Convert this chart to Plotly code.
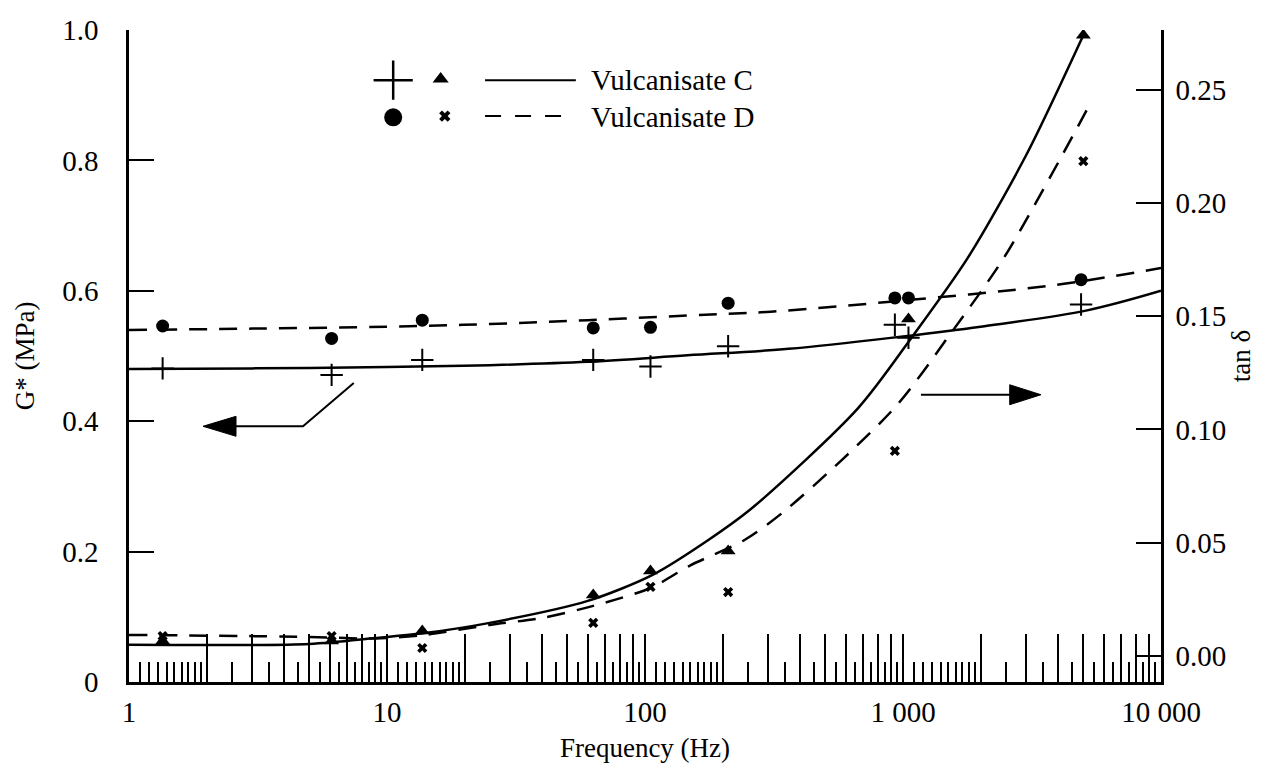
import plotly.graph_objects as go

# ---------------- data ----------------
# G* (MPa) measured points, left axis
freq_g = [1.35, 6.1, 13.7, 63, 105, 210, 930, 1050, 4900]
g_c = [0.481, 0.471, 0.494, 0.494, 0.484, 0.515, 0.548, 0.528, 0.579]   # "+"  Vulcanisate C
g_d = [0.546, 0.527, 0.555, 0.543, 0.544, 0.581, 0.589, 0.589, 0.617]   # dots Vulcanisate D

# tan delta measured points, right axis
freq_tan_c = [1.35, 6.1, 13.7, 63, 105, 210, 1050, 5000]
tan_c = [0.0066, 0.0066, 0.0110, 0.0269, 0.0375, 0.0463, 0.1487, 0.2740]  # triangles
freq_tan_d = [1.35, 6.1, 13.7, 63, 105, 210, 930, 5000]
tan_d = [0.0088, 0.0088, 0.0035, 0.0146, 0.0305, 0.0282, 0.0905, 0.2184]  # crosses

# fitted curves
fit_g_c_f = [1, 3, 10, 25, 60, 146, 360, 1000, 2000, 5170, 10000]
fit_g_c = [0.480, 0.481, 0.483, 0.486, 0.491, 0.501, 0.511, 0.530, 0.545, 0.570, 0.600]
fit_g_d_f = [1, 3, 10, 25, 60, 146, 307, 1000, 3900, 10000]
fit_g_d = [0.540, 0.542, 0.545, 0.549, 0.555, 0.562, 0.568, 0.585, 0.609, 0.635]

fit_tan_c_f = [1, 5, 9, 14, 25, 60, 107, 176, 260, 670, 1100, 1780, 3000, 5000]
fit_tan_c = [0.0049, 0.0053, 0.0079, 0.0101, 0.0146, 0.0243, 0.0358, 0.0512, 0.0653,
             0.1094, 0.1418, 0.1756, 0.2210, 0.2740]
fit_tan_d_f = [1, 5, 9, 14, 25, 40, 63, 105, 150, 243, 359, 925, 1518, 2456, 4140, 5200]
fit_tan_d = [0.0093, 0.0084, 0.0077, 0.0093, 0.0137, 0.0168, 0.0221, 0.0300, 0.0400,
             0.0512, 0.0653, 0.1094, 0.1418, 0.1756, 0.2210, 0.2418]

# axis ticks
x_tick_vals = [1, 10, 100, 1000, 10000]
x_tick_text = ["1", "10", "100", "1 000", "10 000"]
g_tick_vals = [0, 0.2, 0.4, 0.6, 0.8, 1.0]
g_tick_text = ["0", "0.2", "0.4", "0.6", "0.8", "1.0"]
tan_tick_vals = [0.0, 0.05, 0.10, 0.15, 0.20, 0.25]

# log "ruler" ticks along the frequency axis
decades = [1, 10, 100, 1000]
short_mant = [1.1, 1.2, 1.3, 1.4, 1.5, 1.6, 1.7, 1.8, 1.9]
tall_mant = [2, 3, 4, 5, 6, 7, 8, 9, 10]
mid_mant = [2.5, 3.5, 4.5, 5.5, 6.5, 7.5, 8.5, 9.5]
ruler_short = [m * d for d in decades for m in short_mant]
ruler_tall = [1] + [m * d for d in decades for m in tall_mant]
ruler_mid = [m * d for d in decades for m in mid_mant]
label_of = dict(zip(x_tick_vals, x_tick_text))
ruler_tall_text = [label_of.get(v, "") for v in ruler_tall]

FONT = "Liberation Serif"
BLACK = "black"
LW = 2.5

fig = go.Figure()

# fitted curves
fig.add_trace(go.Scatter(x=fit_g_c_f, y=fit_g_c, mode="lines", line=dict(color=BLACK, width=LW, shape="spline"),
                         showlegend=False, hoverinfo="skip"))
fig.add_trace(go.Scatter(x=fit_g_d_f, y=fit_g_d, mode="lines",
                         line=dict(color=BLACK, width=LW, dash="18px,12px", shape="spline"),
                         showlegend=False, hoverinfo="skip"))
fig.add_trace(go.Scatter(x=fit_tan_c_f, y=fit_tan_c, yaxis="y2", mode="lines",
                         line=dict(color=BLACK, width=LW, shape="spline", smoothing=0.8),
                         showlegend=False, hoverinfo="skip"))
fig.add_trace(go.Scatter(x=fit_tan_d_f, y=fit_tan_d, yaxis="y2", mode="lines",
                         line=dict(color=BLACK, width=LW, dash="18px,12px", shape="spline", smoothing=0.8),
                         showlegend=False, hoverinfo="skip"))

# measured points
fig.add_trace(go.Scatter(x=freq_g, y=g_c, mode="markers", name="G* C",
                         marker=dict(symbol="cross-thin-open", size=16, color=BLACK,
                                     line=dict(color=BLACK, width=2)),
                         showlegend=False))
fig.add_trace(go.Scatter(x=freq_g, y=g_d, mode="markers", name="G* D",
                         marker=dict(symbol="circle", size=13, color=BLACK), showlegend=False))
fig.add_trace(go.Scatter(x=freq_tan_c, y=tan_c, yaxis="y2", mode="markers", name="tan C",
                         marker=dict(symbol="triangle-up", size=13, color=BLACK), showlegend=False))
fig.add_trace(go.Scatter(x=freq_tan_d, y=tan_d, yaxis="y2", mode="markers", name="tan D",
                         marker=dict(symbol="x", size=9, color=BLACK), showlegend=False))

# legend glyphs on a hidden unit overlay
leg_x = [0.256, 0.302]
fig.add_trace(go.Scatter(x=[leg_x[0]], y=[0.923], xaxis="x5", yaxis="y5", mode="markers",
                         marker=dict(symbol="cross-thin-open", size=28, color=BLACK,
                                     line=dict(color=BLACK, width=2.5)),
                         showlegend=False, hoverinfo="skip"))
fig.add_trace(go.Scatter(x=[leg_x[1]], y=[0.925], xaxis="x5", yaxis="y5", mode="markers",
                         marker=dict(symbol="triangle-up", size=14, color=BLACK),
                         showlegend=False, hoverinfo="skip"))
fig.add_trace(go.Scatter(x=[leg_x[0]], y=[0.866], xaxis="x5", yaxis="y5", mode="markers",
                         marker=dict(symbol="circle", size=18, color=BLACK),
                         showlegend=False, hoverinfo="skip"))
fig.add_trace(go.Scatter(x=[leg_x[1] + 0.004], y=[0.868], xaxis="x5", yaxis="y5", mode="markers",
                         marker=dict(symbol="x", size=10, color=BLACK),
                         showlegend=False, hoverinfo="skip"))

shapes = [
    # legend lines
    dict(type="line", xref="paper", yref="paper", x0=0.345, x1=0.433, y0=0.923, y1=0.923,
         line=dict(color=BLACK, width=2)),
    dict(type="line", xref="paper", yref="paper", x0=0.345, x1=0.426, y0=0.868, y1=0.868,
         line=dict(color=BLACK, width=2, dash="16px,14px")),
    # left-pointing arrow (G* axis)
    dict(type="path", xref="paper", yref="paper",
         path="M 0.2178 0.4586 L 0.1686 0.3922 L 0.1000 0.3922",
         line=dict(color=BLACK, width=2)),
    dict(type="path", xref="paper", yref="paper",
         path="M 0.0717 0.3922 L 0.1037 0.4075 L 0.1037 0.3769 Z",
         fillcolor=BLACK, line=dict(color=BLACK, width=1)),
    # right-pointing arrow (tan delta axis)
    dict(type="line", xref="paper", yref="paper", x0=0.7674, x1=0.856, y0=0.4406, y1=0.4406,
         line=dict(color=BLACK, width=2)),
    dict(type="path", xref="paper", yref="paper",
         path="M 0.8837 0.4406 L 0.8534 0.4559 L 0.8534 0.4253 Z",
         fillcolor=BLACK, line=dict(color=BLACK, width=1)),
]

annotations = [
    dict(text="Vulcanisate C", xref="paper", yref="paper", x=0.446, y=0.923, xanchor="left",
         yanchor="middle", showarrow=False, font=dict(family=FONT, size=29, color=BLACK)),
    dict(text="Vulcanisate D", xref="paper", yref="paper", x=0.446, y=0.866, xanchor="left",
         yanchor="middle", showarrow=False, font=dict(family=FONT, size=29, color=BLACK)),
]

tick_font = dict(family=FONT, size=29, color=BLACK)
title_font = dict(family=FONT, size=27, color=BLACK)

fig.update_layout(
    width=1269, height=769,
    margin=dict(l=121, r=116, t=22, b=95, autoexpand=False),
    paper_bgcolor="white", plot_bgcolor="white",
    font=dict(family=FONT, color=BLACK),
    showlegend=False,
    xaxis=dict(type="log", range=[0, 4], tickmode="array", tickvals=ruler_tall, ticktext=ruler_tall_text,
               ticks="inside", ticklen=48, tickwidth=2, tickcolor=BLACK,
               minor=dict(tickmode="array", tickvals=ruler_short + ruler_mid, ticks="inside",
                          ticklen=20, tickwidth=2, tickcolor=BLACK, showgrid=False),
               showline=True, linewidth=LW, linecolor=BLACK, showgrid=False, zeroline=False,
               tickfont=tick_font, ticklabelstandoff=2,
               title=dict(text="Frequency (Hz)", font=title_font, standoff=12)),
    xaxis5=dict(range=[0, 1], overlaying="x", anchor="y5", visible=False),
    yaxis=dict(range=[0, 1.0], tickvals=g_tick_vals, ticktext=g_tick_text,
               ticks="inside", ticklen=25, tickwidth=2, tickcolor=BLACK,
               showline=True, linewidth=LW, linecolor=BLACK, showgrid=False, zeroline=False,
               tickfont=tick_font, ticklabelstandoff=22,
               title=dict(text="G* (MPa)", font=title_font, standoff=20)),
    yaxis2=dict(range=[-0.0115, 0.2763], tickvals=tan_tick_vals, tickformat=".2f",
                overlaying="y", side="right", anchor="x",
                ticks="inside", ticklen=25, tickwidth=2, tickcolor=BLACK,
                showline=True, linewidth=LW, linecolor=BLACK, showgrid=False, zeroline=False,
                tickfont=tick_font, ticklabelstandoff=6,
                title=dict(text="tan δ", font=title_font, standoff=2)),
    yaxis5=dict(range=[0, 1], overlaying="y", anchor="x5", visible=False),
    shapes=shapes,
    annotations=annotations,
)

fig.write_html("out.html")
